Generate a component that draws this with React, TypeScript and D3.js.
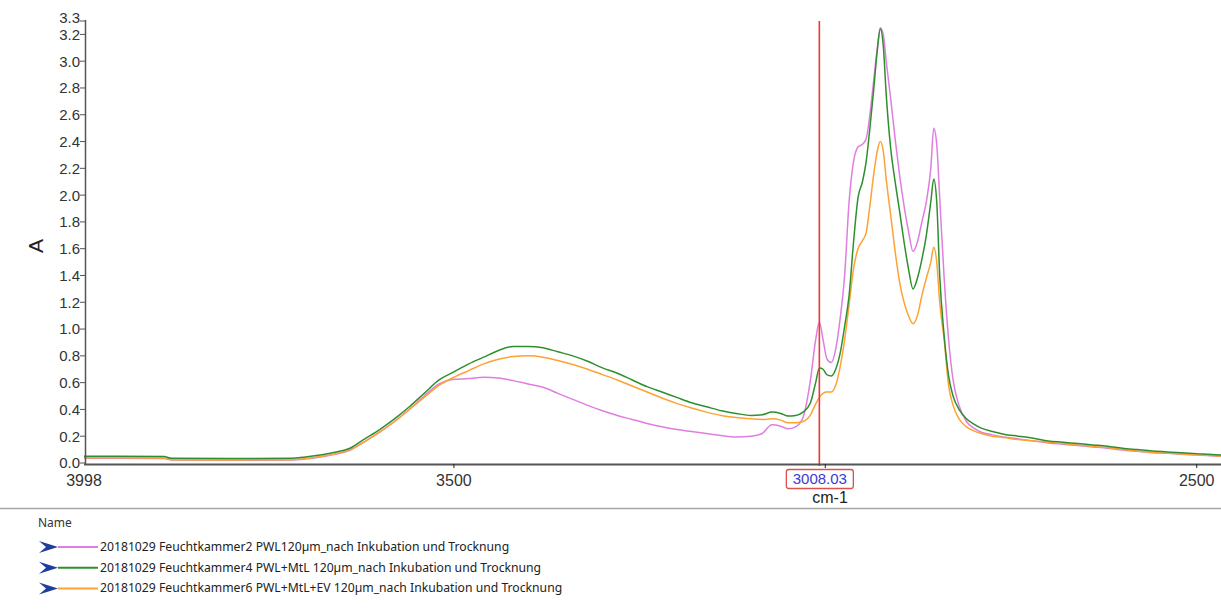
import React from "react";
import * as d3 from "d3";

const wavenumbers = [
  3998, 3950, 3890, 3880, 3800, 3720, 3700, 3680, 3660, 3640, 3620, 3600, 3580, 3560, 3540, 3520,
  3500, 3480, 3460, 3440, 3420, 3400, 3380, 3360, 3340, 3320, 3300, 3280, 3260, 3240, 3220, 3200,
  3180, 3160, 3140, 3120, 3100, 3085, 3072, 3060, 3050, 3040, 3030, 3020, 3013, 3008, 3003, 2998,
  2992, 2986, 2980, 2974, 2968, 2962, 2956, 2950, 2945, 2940, 2935, 2930, 2926, 2922, 2918, 2912,
  2906, 2900, 2894, 2888, 2882, 2876, 2870, 2864, 2858, 2854, 2850, 2846, 2840, 2834, 2828, 2820,
  2810, 2800, 2790, 2775, 2760, 2740, 2720, 2700, 2680, 2660, 2640, 2620, 2600, 2580, 2560, 2540,
  2520, 2500, 2480, 2467,
];

const pinkValues = [
  0.035, 0.035, 0.033, 0.022, 0.02, 0.022, 0.03, 0.045, 0.065, 0.095, 0.16, 0.23, 0.31, 0.4, 0.5, 0.59,
  0.625, 0.63, 0.64, 0.635, 0.615, 0.59, 0.565, 0.52, 0.475, 0.43, 0.39, 0.355, 0.325, 0.295, 0.27, 0.25,
  0.235, 0.22, 0.205, 0.195, 0.2, 0.22, 0.285, 0.275, 0.255, 0.27, 0.34, 0.62, 0.92, 1.05, 0.92, 0.78,
  0.75, 0.85, 1.08, 1.4, 1.95, 2.25, 2.36, 2.38, 2.42, 2.6, 2.85, 3.1, 3.25, 3.2, 3.0, 2.72,
  2.42, 2.15, 1.92, 1.73, 1.58, 1.65, 1.8, 1.95, 2.2, 2.5, 2.38, 1.98, 1.38, 0.92, 0.62, 0.43,
  0.31, 0.26, 0.23, 0.21, 0.195, 0.18, 0.165, 0.15, 0.14, 0.13, 0.12, 0.11, 0.097, 0.087, 0.077, 0.072,
  0.065, 0.06, 0.054, 0.05,
];

const greenValues = [
  0.05, 0.05, 0.048, 0.035, 0.033, 0.035, 0.045, 0.06, 0.08, 0.11, 0.18, 0.25, 0.33, 0.42, 0.52, 0.62,
  0.68, 0.74, 0.79, 0.84, 0.87, 0.87, 0.86, 0.83, 0.8, 0.76, 0.71, 0.67, 0.62, 0.57, 0.53, 0.49,
  0.45, 0.42, 0.39, 0.37, 0.355, 0.36, 0.38, 0.37, 0.35, 0.355, 0.38, 0.45, 0.6, 0.71, 0.7, 0.66,
  0.65, 0.7, 0.82, 1.02, 1.25, 1.65, 1.98, 2.1, 2.25, 2.5, 2.78, 3.08, 3.24, 3.12, 2.75, 2.35,
  2.1, 1.88, 1.65, 1.45, 1.3, 1.38, 1.52, 1.7, 1.95, 2.12, 1.95, 1.4, 0.95, 0.65, 0.5, 0.4,
  0.33, 0.29, 0.26, 0.235, 0.215, 0.2, 0.185, 0.165, 0.155, 0.145, 0.135, 0.125, 0.11, 0.1, 0.09, 0.083,
  0.076, 0.07, 0.063, 0.06,
];

const orangeValues = [
  0.04, 0.04, 0.038, 0.025, 0.023, 0.025, 0.033, 0.048, 0.068, 0.1, 0.16, 0.23, 0.31, 0.4, 0.49, 0.58,
  0.64, 0.69, 0.74, 0.775, 0.795, 0.8, 0.79, 0.765, 0.735, 0.7, 0.66, 0.62, 0.575, 0.53, 0.485, 0.445,
  0.41, 0.38, 0.355, 0.34, 0.33, 0.325, 0.33, 0.32, 0.3, 0.3, 0.31, 0.36, 0.44, 0.49, 0.52, 0.53,
  0.53, 0.58, 0.72, 0.92, 1.18, 1.45, 1.6, 1.66, 1.72, 1.92, 2.15, 2.33, 2.4, 2.33, 2.12, 1.85,
  1.58, 1.35, 1.2, 1.1, 1.04, 1.1, 1.25, 1.38, 1.5, 1.61, 1.5, 1.2, 0.92, 0.58, 0.43, 0.33,
  0.27, 0.24, 0.22, 0.2, 0.19, 0.175, 0.165, 0.155, 0.145, 0.135, 0.125, 0.115, 0.1, 0.09, 0.08, 0.075,
  0.068, 0.062, 0.056, 0.052,
];

const seriesNames = [
  "20181029 Feuchtkammer2 PWL120µm_nach Inkubation und Trocknung",
  "20181029 Feuchtkammer4 PWL+MtL 120µm_nach Inkubation und Trocknung",
  "20181029 Feuchtkammer6 PWL+MtL+EV 120µm_nach Inkubation und Trocknung",
];
const seriesColors = ["#e07ee0", "#2f8f2f", "#ffa235"];

const yTicks = [0, 0.2, 0.4, 0.6, 0.8, 1.0, 1.2, 1.4, 1.6, 1.8, 2.0, 2.2, 2.4, 2.6, 2.8, 3.0, 3.2, 3.3];
const xTickValues = [3500, 3000, 2500];
const xLabelledTicks = [3998, 3500, 2500];
const cursorWavenumber = 3008.03;

const W = 1221;
const H = 609;

export default function App() {
  const x = d3.scaleLinear().domain([3998, 2467.3]).range([84, 1221]);
  const y = d3.scaleLinear().domain([0, 3.3]).range([463, 21]);
  const allValues = [pinkValues, greenValues, orangeValues];
  const line = d3
    .line<[number, number]>()
    .x((d) => x(d[0]))
    .y((d) => y(d[1]))
    .curve(d3.curveMonotoneX);
  const drawOrder = [0, 2, 1];
  const fmt = d3.format(".1f");
  const tickFont = "'Liberation Sans', Arial, sans-serif";
  const cx = x(cursorWavenumber);
  const axisColor = "#555";

  return (
    <div style={{ position: "absolute", left: 0, top: 0 }}>
      <svg width={W} height={H} style={{ display: "block", background: "#fff" }}>
        <g>
          {drawOrder.map((i) => (
            <path
              key={i}
              d={line(wavenumbers.map((w, k) => [w, allValues[i][k]] as [number, number])) || ""}
              fill="none"
              stroke={seriesColors[i]}
              strokeWidth={1.5}
              strokeLinejoin="round"
            />
          ))}
        </g>

        <line x1={cx} x2={cx} y1={21} y2={466} stroke="#f03434" strokeWidth={1.6} />

        <line x1={85.5} x2={85.5} y1={20} y2={465} stroke={axisColor} strokeWidth={1.5} />
        {yTicks.map((t) => (
          <g key={t}>
            <line x1={80} x2={85.5} y1={y(t)} y2={y(t)} stroke={axisColor} strokeWidth={1} />
            <text
              x={80}
              y={y(t) + (t === 3.3 ? -3 : 0)}
              dy="0.36em"
              textAnchor="end"
              fontFamily={tickFont}
              fontSize={15}
              fill="#333"
            >
              {fmt(t)}
            </text>
          </g>
        ))}
        <text
          transform={`translate(43,246) rotate(-90)`}
          textAnchor="middle"
          fontFamily={tickFont}
          fontSize={21}
          fill="#222"
        >
          A
        </text>

        <line x1={84} x2={1221} y1={464.5} y2={464.5} stroke={axisColor} strokeWidth={2} />
        {xTickValues.map((t) => (
          <line key={t} x1={x(t)} x2={x(t)} y1={464} y2={468} stroke="#222" strokeWidth={1} />
        ))}
        {xLabelledTicks.map((t) => (
          <text
            key={t}
            x={x(t)}
            y={486}
            textAnchor="middle"
            fontFamily={tickFont}
            fontSize={16}
            fill="#333"
          >
            {t}
          </text>
        ))}
        <rect
          x={cx - 33}
          y={469.5}
          width={67}
          height={19}
          rx={2.5}
          fill="#fff"
          stroke="#d9534f"
          strokeWidth={1.3}
        />
        <text
          x={cx + 0.5}
          y={484}
          textAnchor="middle"
          fontFamily={tickFont}
          fontSize={15}
          fill="#3b3bd0"
        >
          {cursorWavenumber.toFixed(2)}
        </text>
        <text
          x={830}
          y={503}
          textAnchor="middle"
          fontFamily={tickFont}
          fontSize={16}
          fill="#222"
        >
          cm-1
        </text>

        <line x1={0} x2={W} y1={508.5} y2={508.5} stroke="#a8a8a8" strokeWidth={1.5} />
        <text x={38} y={527} fontFamily="'Noto Sans', sans-serif" fontSize={12} fill="#333">
          Name
        </text>
        {seriesNames.map((name, i) => {
          const by = 547 + i * 20.7;
          return (
            <g key={name}>
              <path
                d={`M39,${by - 6} L58,${by} L39,${by + 6} L46,${by} Z`}
                fill="#1f3f9a"
              />
              <line x1={58} x2={98} y1={by} y2={by} stroke={seriesColors[i]} strokeWidth={2} />
              <text
                x={100}
                y={by + 4}
                fontFamily="'Noto Sans', sans-serif"
                fontSize={12.2}
                fill="#222"
              >
                {name}
              </text>
            </g>
          );
        })}
      </svg>
    </div>
  );
}
